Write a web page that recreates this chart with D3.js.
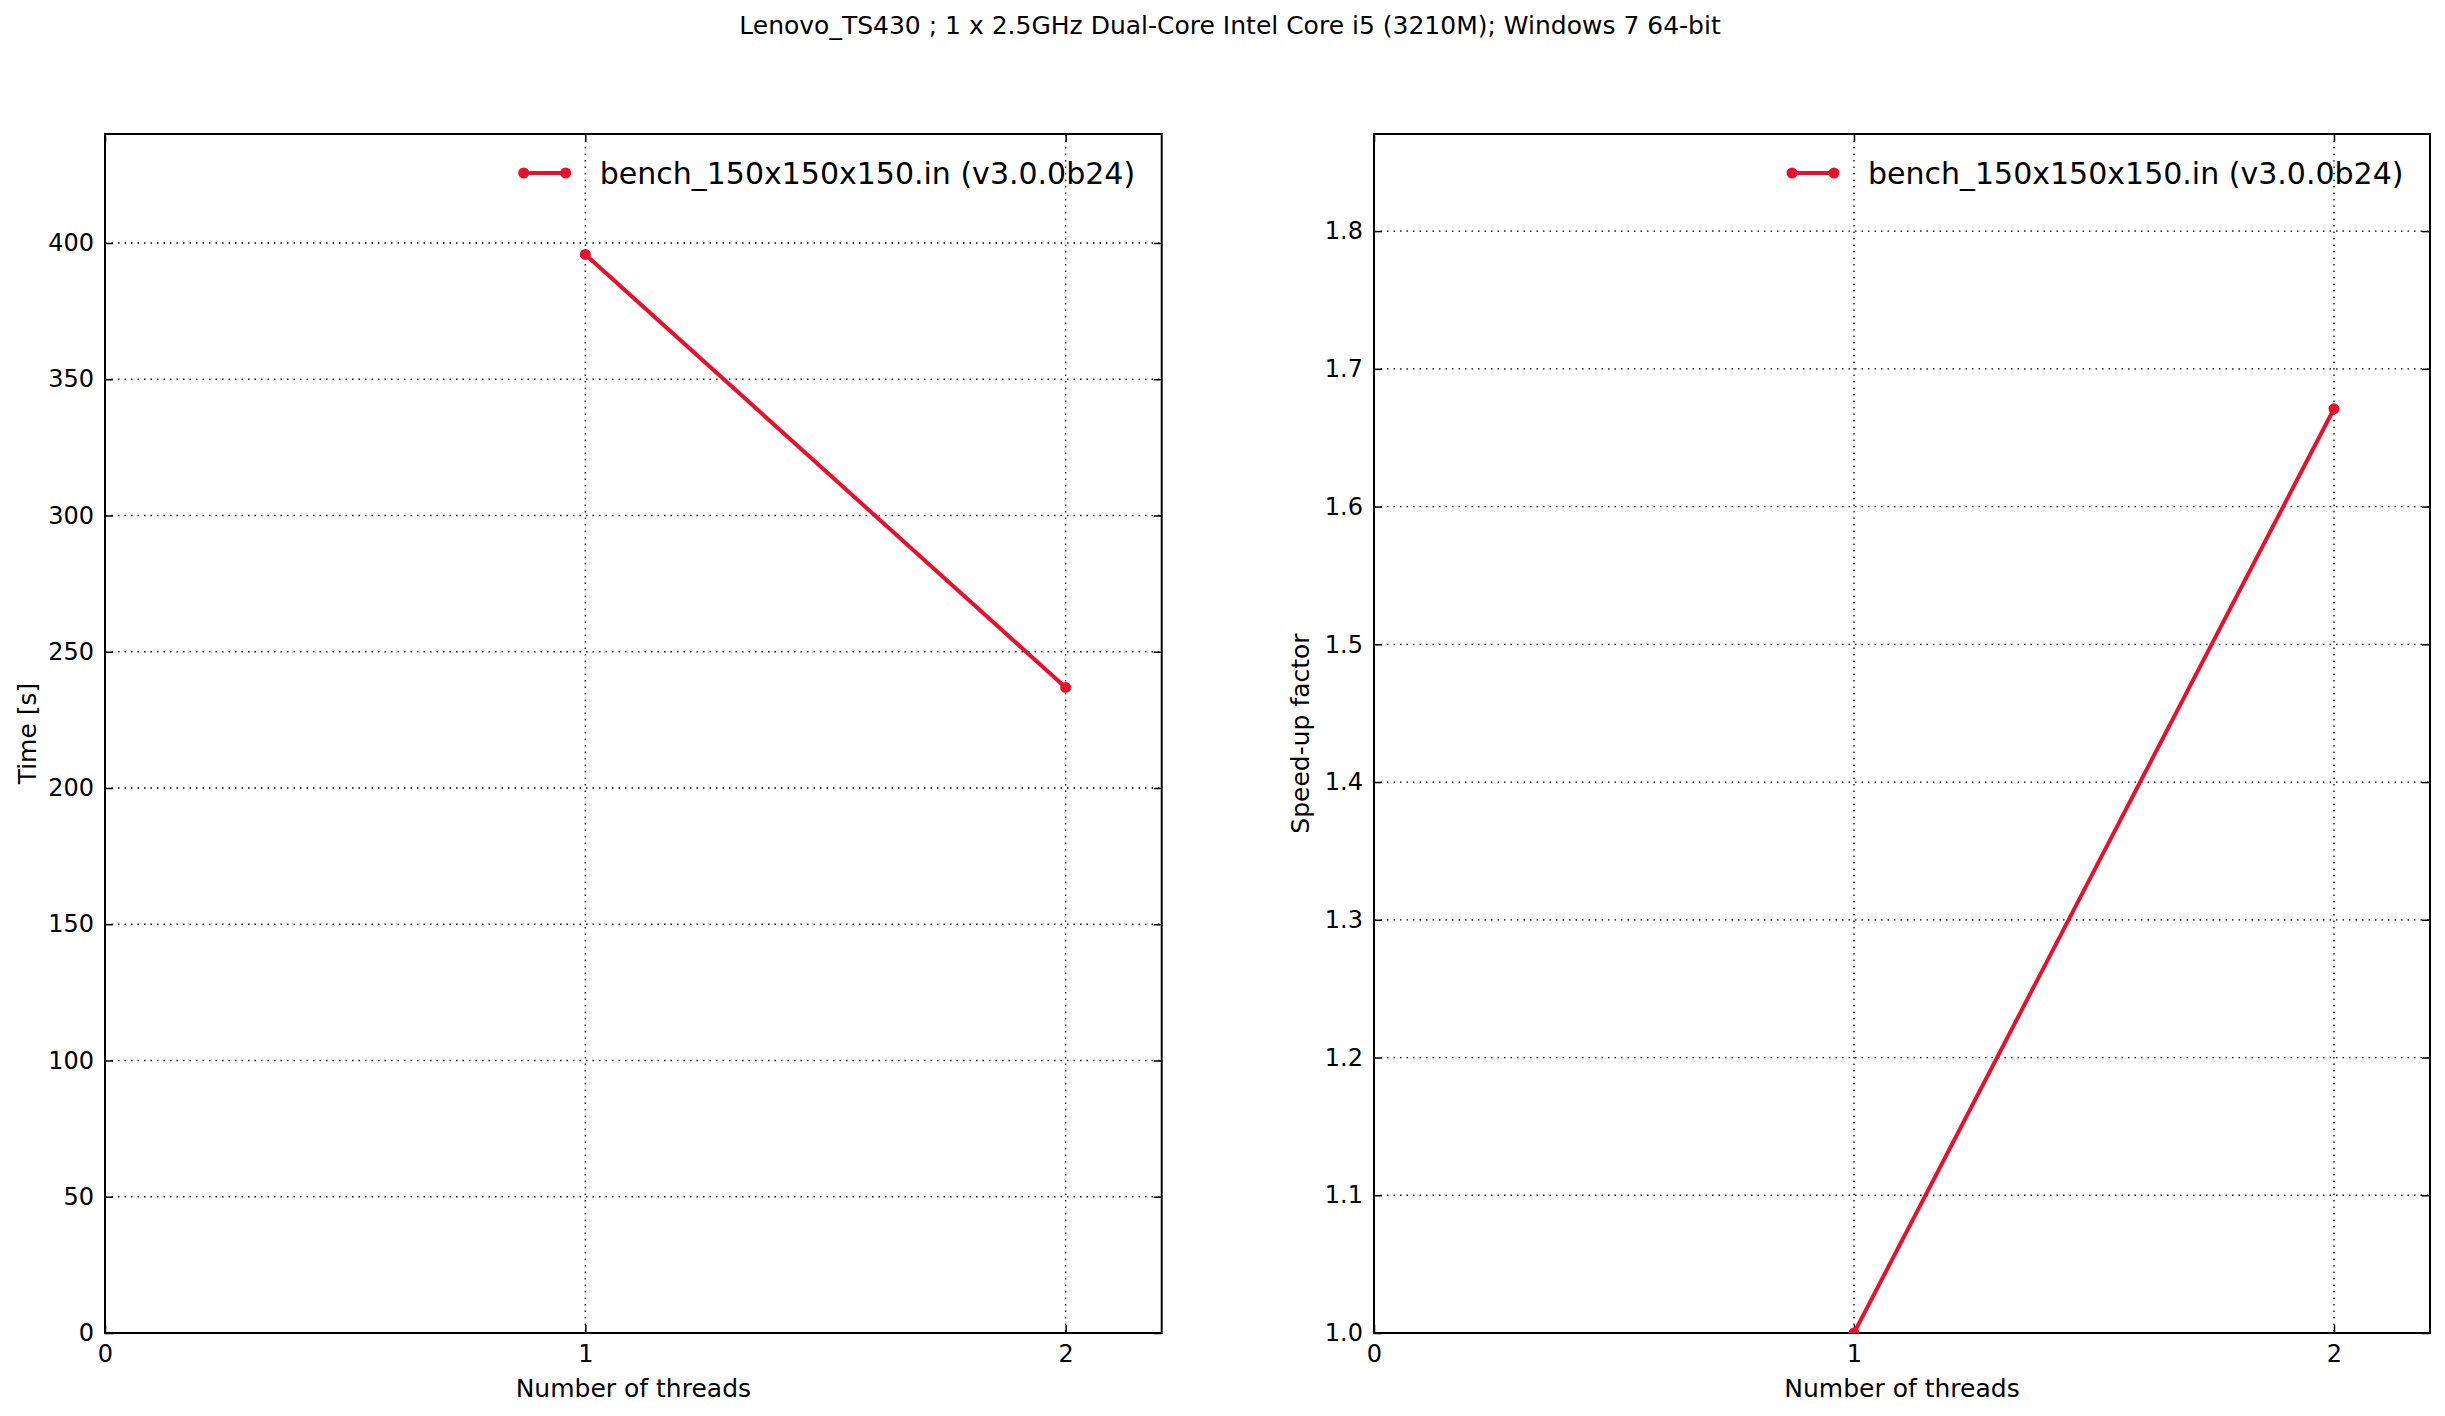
<!DOCTYPE html>
<html><head><meta charset="utf-8">
<script src="https://cdn.jsdelivr.net/npm/d3@7"></script>
<style>body{margin:0;background:#fff}svg{display:block}text{font-family:"DejaVu Sans",sans-serif;fill:#000}</style>
</head><body><svg id="c" width="2445" height="1416"></svg>
<script>
const threads = [1, 2];
const timeValues = [395.8, 236.9];
const speedupValues = [1.0, 1.671];
const seriesName = "bench_150x150x150.in (v3.0.0b24)";
const title = "Lenovo_TS430 ; 1 x 2.5GHz Dual-Core Intel Core i5 (3210M); Windows 7 64-bit";
const xTicks = [0, 1, 2];
const timeTicks = [0, 50, 100, 150, 200, 250, 300, 350, 400];
const speedTicks = [1.0, 1.1, 1.2, 1.3, 1.4, 1.5, 1.6, 1.7, 1.8];

const svg = d3.select("#c");
const red = "#e8112d";
svg.append("text").attr("x", 1230).attr("y", 25).attr("text-anchor", "middle")
  .attr("dominant-baseline", "central").style("font-size", "25px").text(title);

function panel(id, left, right, yDomain, yTicks, yFmt, values, ylabel, ylabelX) {
  const top = 134, bottom = 1333;
  const x = d3.scaleLinear().domain([0, 2.2]).range([left, right]);
  const y = d3.scaleLinear().domain(yDomain).range([bottom, top]);
  const g = svg.append("g");
  g.append("clipPath").attr("id", id).append("rect")
    .attr("x", left).attr("y", top).attr("width", right - left).attr("height", bottom - top);
  const grid = g.append("g").attr("stroke", "#000").attr("stroke-width", 1.3).attr("stroke-dasharray", "1.5,5");
  xTicks.forEach(t => grid.append("line").attr("x1", x(t)).attr("x2", x(t)).attr("y1", top).attr("y2", bottom));
  yTicks.forEach(t => grid.append("line").attr("y1", y(t)).attr("y2", y(t)).attr("x1", left).attr("x2", right));
  const tl = 8;
  const ax = g.append("g").attr("transform", `translate(0,${bottom})`)
    .call(d3.axisBottom(x).tickValues(xTicks).tickFormat(d3.format("d")).tickSizeInner(-tl).tickSizeOuter(0).tickPadding(12));
  const axT = g.append("g").attr("transform", `translate(0,${top})`)
    .call(d3.axisTop(x).tickValues(xTicks).tickFormat("").tickSizeInner(-tl).tickSizeOuter(0));
  const ay = g.append("g").attr("transform", `translate(${left},0)`)
    .call(d3.axisLeft(y).tickValues(yTicks).tickFormat(yFmt).tickSizeInner(-tl).tickSizeOuter(0).tickPadding(11));
  const ayR = g.append("g").attr("transform", `translate(${right},0)`)
    .call(d3.axisRight(y).tickValues(yTicks).tickFormat("").tickSizeInner(-tl).tickSizeOuter(0));
  [ax, axT, ay, ayR].forEach(a => {
    a.select(".domain").remove();
    a.selectAll(".tick line").attr("stroke", "#000").attr("stroke-width", 1.5);
    a.selectAll("text").style("font-size", "24px").style("font-family", "DejaVu Sans");
  });
  g.append("rect").attr("x", left).attr("y", top).attr("width", right - left).attr("height", bottom - top)
    .attr("fill", "none").attr("stroke", "#000").attr("stroke-width", 2);
  const pts = threads.map((t, i) => [t, values[i]]);
  const dg = g.append("g").attr("clip-path", `url(#${id})`);
  dg.append("path").datum(pts).attr("d", d3.line().x(d => x(d[0])).y(d => y(d[1])))
    .attr("fill", "none").attr("stroke", red).attr("stroke-width", 4);
  dg.selectAll("circle").data(pts).join("circle").attr("cx", d => x(d[0])).attr("cy", d => y(d[1]))
    .attr("r", 5.5).attr("fill", red);
  g.append("text").attr("x", (left + right) / 2).attr("y", 1397).attr("text-anchor", "middle")
    .style("font-size", "25px").text("Number of threads");
  g.append("text").attr("transform", `translate(${ylabelX},${(top + bottom) / 2}) rotate(-90)`)
    .attr("text-anchor", "middle").attr("dominant-baseline", "central").style("font-size", "25px").text(ylabel);
  const lx = right - 638, ly = 173;
  g.append("line").attr("x1", lx).attr("x2", lx + 42).attr("y1", ly).attr("y2", ly).attr("stroke", red).attr("stroke-width", 4);
  [lx, lx + 42].forEach(cx => g.append("circle").attr("cx", cx).attr("cy", ly).attr("r", 5.5).attr("fill", red));
  g.append("text").attr("x", lx + 76).attr("y", ly).attr("dominant-baseline", "central")
    .style("font-size", "30px").text(seriesName);
}
panel("c1", 105, 1161.7, [0, 440], timeTicks, d3.format("d"), timeValues, "Time [s]", 27);
panel("c2", 1374, 2430, [1.0, 1.8705], speedTicks, d3.format(".1f"), speedupValues, "Speed-up factor", 1300);
</script></body></html>
